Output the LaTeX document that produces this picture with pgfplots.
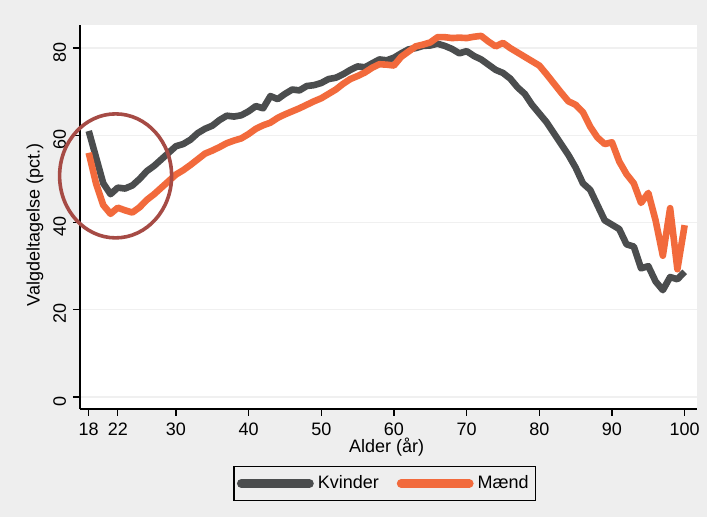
\documentclass[border=0pt]{standalone}
\usepackage{pgfplots}
\pgfplotsset{compat=1.18}
\usepackage{pgfplotstable}
\usepackage{fontspec}
\setmainfont{Liberation Sans}

\definecolor{kvgray}{HTML}{4B4D4E}
\definecolor{mdorange}{HTML}{F26A3C}
\definecolor{ringred}{HTML}{A64B45}
\definecolor{paper}{HTML}{EEEEEE}

% Valgdeltagelse efter alder
\pgfplotstableread{
alder kvinder maend
18 61.0 56.0
19 55.0 49.0
20 49.0 44.0
21 46.5 42.0
22 48.0 43.4
23 47.8 42.8
24 48.5 42.3
25 50.0 43.5
26 51.8 45.2
27 53.0 46.5
28 54.5 48.0
29 56.0 49.5
30 57.5 51.0
31 58.0 52.0
32 59.0 53.2
33 60.5 54.5
34 61.5 55.8
35 62.2 56.5
36 63.5 57.3
37 64.5 58.2
38 64.3 58.8
39 64.6 59.3
40 65.5 60.3
41 66.7 61.5
42 66.2 62.3
43 69.0 62.9
44 68.3 64.0
45 69.5 64.8
46 70.5 65.5
47 70.3 66.2
48 71.3 67.0
49 71.5 67.8
50 72.0 68.5
51 72.9 69.5
52 73.2 70.5
53 74.0 71.8
54 75.0 72.9
55 75.8 73.6
56 75.6 74.4
57 76.5 75.5
58 77.4 76.3
59 77.2 76.2
60 77.8 76.0
61 78.8 78.0
62 79.7 79.2
63 80.0 80.4
64 80.5 80.8
65 80.6 81.3
66 81.0 82.5
67 80.5 82.5
68 79.8 82.3
69 78.8 82.4
70 79.3 82.3
71 78.2 82.6
72 77.4 82.8
73 76.2 81.5
74 75.0 80.4
75 74.3 81.2
76 73.0 80.0
77 71.0 79.0
78 69.5 78.0
79 67.0 77.0
80 65.0 76.0
81 63.0 74.0
82 60.5 71.9
83 58.0 69.8
84 55.5 67.8
85 52.6 67.0
86 49.0 65.3
87 47.5 62.0
88 44.0 59.5
89 40.5 58.0
90 39.5 58.4
91 38.5 54.0
92 35.0 51.1
93 34.5 49.0
94 29.5 44.5
95 30.0 46.8
96 26.5 40.5
97 24.5 32.4
98 27.5 43.3
99 27.0 29.3
100 28.7 39.4
}\valgdata

\begin{document}
\begin{tikzpicture}[font=\fontsize{9}{10.5}\selectfont]
\fill[paper] (-40pt,-54pt) rectangle (313.5pt,204.5pt);
\begin{axis}[
  scale only axis,
  width=308.5pt, height=192pt,
  xmin=16.8, xmax=101.7,
  ymin=-2.75, ymax=85.3,
  clip mode=individual,
  axis background/.style={fill=white},
  axis x line*=bottom, axis y line*=left,
  axis line style={black, line width=0.6pt, -},
  xtick={18,22,30,40,50,60,70,80,90,100},
  ytick={0,20,40,60,80},
  tick align=outside,
  major tick length=3.5pt,
  tick style={black, line width=0.6pt},
  yticklabel style={rotate=90, anchor=south, xshift=-2pt},
  /pgf/number format/assume math mode=true,
  ymajorgrids,
  grid style={gray!12, line width=0.6pt},
  xlabel={Alder (år)},
  ylabel={Valgdeltagelse (pct.)},
  xlabel style={at={(axis description cs:0.497,-0.099)}, anchor=center},
  ylabel style={at={(axis description cs:-0.073,0.479)}, anchor=center},
  legend columns=2,
  legend style={at={(axis description cs:0.494,-0.194)}, anchor=center,
    draw=black, line width=0.6pt, fill=paper,
    inner xsep=1.5pt, inner ysep=2.5pt,
    /tikz/every even column/.append style={column sep=7pt}},
  legend image code/.code={\draw[#1, line width=4.4pt, line cap=round] (0pt,0pt) -- (34pt,0pt);},
]
\addplot[kvgray, line width=3.3pt, line join=round] table[x=alder, y=kvinder] {\valgdata};
\addlegendentry{Kvinder}
\addplot[mdorange, line width=3.3pt, line join=round] table[x=alder, y=maend] {\valgdata};
\addlegendentry{Mænd}
\draw[ringred, line width=1.8pt] (axis cs:21.7,50.7) ellipse [x radius=28pt, y radius=31pt];
\end{axis}
\end{tikzpicture}
\end{document}
